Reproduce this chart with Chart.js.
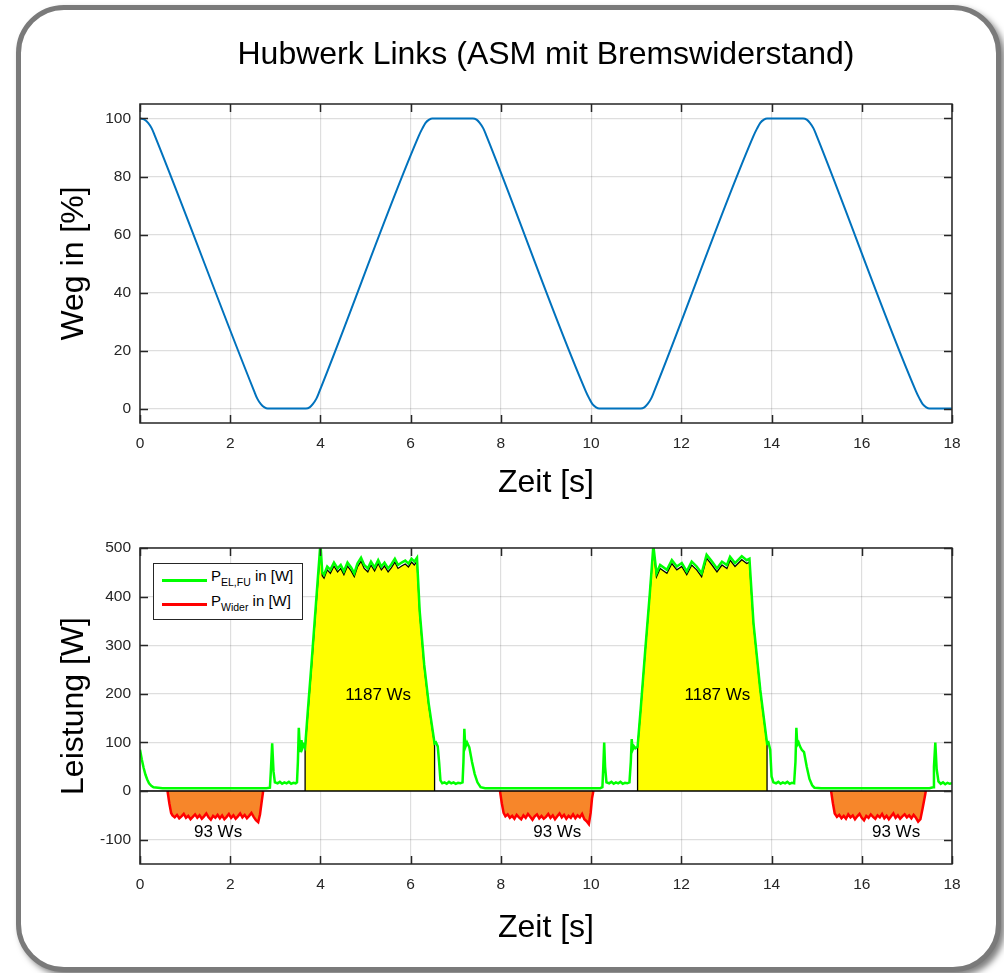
<!DOCTYPE html>
<html><head><meta charset="utf-8">
<script src="https://cdn.jsdelivr.net/npm/chart.js@4.4.1/dist/chart.umd.min.js"></script>
<style>
html,body{margin:0;padding:0;background:#fff;}
#page{position:relative;width:1004px;height:973px;overflow:hidden;background:#fff;font-family:"Liberation Sans",Arial,sans-serif;}
#frame{position:absolute;left:16px;top:5px;width:975px;height:957px;border:5px solid #7a7a7a;border-radius:48px;box-shadow:4px 4px 6px rgba(0,0,0,0.5);background:#fff;}
canvas{position:absolute;left:0;}
#c1{top:0;}
#c2{top:510px;}
#legend{position:absolute;left:153px;top:563px;width:150px;height:57px;box-sizing:border-box;border:1px solid #262626;background:#fff;color:#000;font-size:15px;}
#legend .ls{position:absolute;left:8px;width:45px;height:2.5px;}
#legend .lt{position:absolute;left:57px;line-height:18px;white-space:nowrap;}
#legend sub{font-size:10.5px;vertical-align:baseline;position:relative;top:5px;}
</style></head>
<body>
<div id="page">
<div id="frame"></div>
<canvas id="c1" width="1004" height="510"></canvas>
<canvas id="c2" width="1004" height="463"></canvas>
<div id="legend">
  <div class="ls" style="top:15px;background:#00ff00;"></div>
  <div class="lt" style="top:3px;">P<sub>EL,FU</sub> in [W]</div>
  <div class="ls" style="top:39px;background:#ff0000;"></div>
  <div class="lt" style="top:28px;">P<sub>Wider</sub> in [W]</div>
</div>
</div>
<script>
// ---------- data ----------
const xTicks = [0, 2, 4, 6, 8, 10, 12, 14, 16, 18];
const wegTicks = [0, 20, 40, 60, 80, 100];
const powerTicks = [-100, 0, 100, 200, 300, 400, 500];

const wegTime = [0, 0.1, 0.18, 0.26, 0.33, 2.53, 2.6, 2.68, 2.76, 2.83,
  3.68, 3.76, 3.83, 3.91, 3.98, 6.18, 6.26, 6.33, 6.41, 6.48,
  7.38, 7.46, 7.53, 7.61, 7.68, 9.88, 9.96, 10.03, 10.11, 10.18,
  11.1, 11.18, 11.25, 11.33, 11.4, 13.6, 13.68, 13.75, 13.83, 13.9,
  14.7, 14.78, 14.85, 14.93, 15.0, 17.2, 17.28, 17.35, 17.43, 17.5, 18];
const wegValue = [100, 99.6, 98.5, 96.6, 94, 6, 3.4, 1.5, 0.4, 0,
  0, 0.4, 1.5, 3.4, 6, 94, 96.6, 98.5, 99.6, 100,
  100, 99.6, 98.5, 96.6, 94, 6, 3.4, 1.5, 0.4, 0,
  0, 0.4, 1.5, 3.4, 6, 94, 96.6, 98.5, 99.6, 100,
  100, 99.6, 98.5, 96.6, 94, 6, 3.4, 1.5, 0.4, 0, 0];

const fuTime = [0, 0.04, 0.08, 0.12, 0.16, 0.2, 0.25, 0.3, 0.4, 0.5, 0.7, 1.0, 1.5, 2.0, 2.5, 2.8,
  2.88, 2.9, 2.93, 2.96, 2.99, 3.05, 3.1, 3.15, 3.2, 3.25, 3.3, 3.35, 3.4, 3.45, 3.48,
  3.5, 3.52, 3.54, 3.56, 3.58, 3.6, 3.63, 3.66,
  3.72, 3.8, 3.9, 4.0, 4.04, 4.08,
  4.15, 4.22, 4.3, 4.38, 4.45, 4.52, 4.6, 4.68, 4.75, 4.82, 4.9, 4.97, 5.05, 5.12, 5.2, 5.28,
  5.35, 5.42, 5.5, 5.57, 5.65, 5.72, 5.8, 5.88, 5.95, 6.02, 6.08, 6.14,
  6.2, 6.3, 6.4, 6.53, 6.56, 6.6, 6.63, 6.66, 6.7, 6.75, 6.8, 6.85, 6.9, 6.95, 7.0, 7.05, 7.1, 7.15,
  7.17, 7.19, 7.21, 7.25, 7.3, 7.36, 7.42, 7.48, 7.55, 7.65, 8.0, 8.5, 9.0, 9.5, 10.0, 10.2,
  10.25, 10.27, 10.29, 10.31, 10.34, 10.4, 10.45, 10.5, 10.55, 10.6, 10.65, 10.7, 10.75, 10.8, 10.85,
  10.88, 10.9, 10.92, 10.95, 10.98, 11.03,
  11.1, 11.2, 11.3, 11.38, 11.45,
  11.53, 11.68, 11.79, 11.9, 12.01, 12.12, 12.23, 12.34, 12.45, 12.56, 12.68, 12.79, 12.9, 13.01,
  13.08, 13.19, 13.34, 13.45, 13.51,
  13.6, 13.75, 13.9, 13.93, 13.97, 14.0, 14.04, 14.1, 14.15, 14.2, 14.25, 14.3, 14.35, 14.4, 14.45, 14.5,
  14.53, 14.55, 14.57, 14.6, 14.63, 14.67, 14.72, 14.78, 14.84, 14.9, 14.95, 15.1, 15.5, 16, 16.5, 17, 17.5,
  17.58, 17.6, 17.63, 17.66, 17.7, 17.75, 17.8, 17.85, 17.9, 17.95, 18];
const fuValue = [85, 65, 48, 34, 24, 16, 11, 8, 7, 6, 6, 6, 6, 6, 6, 6,
  7, 40, 98, 40, 18, 16, 19, 15, 18, 16, 19, 15, 17, 16, 18,
  60, 130, 95, 80, 105, 88, 95, 90,
  165, 260, 385, 510, 450, 445,
  462, 455, 470, 458, 465, 452, 470, 460, 448, 468, 480, 465, 458, 472, 460, 475,
  462, 470, 458, 466, 478, 465, 470, 474, 468, 478, 472, 480,
  370, 260, 180, 98, 100, 92, 60, 22, 16, 18, 15, 19, 16, 18, 15, 17, 16, 18,
  60, 128, 90, 100, 90, 60, 35, 18, 8, 6, 6, 6, 6, 6, 6, 6,
  8, 50, 100, 50, 18, 16, 19, 15, 18, 16, 19, 15, 17, 16, 18,
  60, 107, 85, 92, 88, 91,
  170, 290, 405, 505, 448,
  465, 455, 475, 462, 469, 452, 472, 462, 448, 486, 472, 458, 472, 465,
  482, 469, 483, 475, 478,
  345, 208, 98, 100, 85, 30, 18, 16, 19, 15, 18, 16, 19, 15, 17, 16,
  60, 130, 95, 100, 92, 85, 80, 50, 25, 12, 7, 6, 6, 6, 6, 6, 6,
  8, 50, 100, 45, 20, 15, 18, 14, 17, 15, 16];

const wiTime = [0.61, 0.65, 0.69, 0.72, 0.77, 0.82, 0.87, 0.92, 0.97, 1.02, 1.07, 1.12, 1.17, 1.22, 1.27,
  1.32, 1.37, 1.42, 1.47, 1.52, 1.57, 1.62, 1.67, 1.72, 1.77, 1.82, 1.87, 1.92, 1.97, 2.02, 2.07,
  2.12, 2.17, 2.22, 2.27, 2.32, 2.37, 2.42, 2.47, 2.52, 2.57, 2.62, 2.66, 2.7, 2.73,
  5,
  7.98, 8.02, 8.06, 8.1, 8.15, 8.2, 8.25, 8.3, 8.35, 8.4, 8.45, 8.5, 8.55, 8.6, 8.65, 8.7, 8.75, 8.8,
  8.85, 8.9, 8.95, 9.0, 9.05, 9.1, 9.15, 9.2, 9.25, 9.3, 9.35, 9.4, 9.45, 9.5, 9.55, 9.6, 9.65, 9.7,
  9.75, 9.8, 9.85, 9.9, 9.95, 9.99, 10.02, 10.05,
  12,
  15.32, 15.36, 15.4, 15.45, 15.5, 15.55, 15.6, 15.65, 15.7, 15.75, 15.8, 15.85, 15.9, 15.95, 16.0,
  16.05, 16.1, 16.15, 16.2, 16.25, 16.3, 16.35, 16.4, 16.45, 16.5, 16.55, 16.6, 16.65, 16.7, 16.75,
  16.8, 16.85, 16.9, 16.95, 17.0, 17.05, 17.1, 17.15, 17.2, 17.25, 17.3, 17.35, 17.4, 17.42];
const wiValue = [0, -25, -45, -50, -54, -49, -56, -52, -47, -55, -51, -58, -53, -48, -55,
  -50, -57, -52, -46, -54, -59, -51, -55, -49, -56, -50, -58, -53, -47, -55, -50,
  -57, -52, -46, -54, -49, -56, -51, -45, -53, -60, -64, -48, -20, 0,
  null,
  0, -25, -45, -52, -48, -55, -51, -57, -49, -54, -58, -50, -55, -47, -53, -59, -52, -48,
  -56, -51, -57, -53, -47, -55, -50, -58, -52, -46, -54, -49, -57, -51, -55, -48, -56, -50,
  -54, -47, -58, -62, -68, -45, -15, 0,
  null,
  0, -25, -46, -53, -49, -56, -51, -57, -48, -54, -50, -58, -52, -47, -55,
  -60, -51, -55, -48, -53, -57, -50, -54, -47, -56, -51, -58, -52, -46, -55,
  -50, -57, -52, -48, -54, -50, -56, -49, -55, -63, -58, -35, -10, 0];

const areaTime = [3.66, 3.66, 3.72, 3.8, 3.9, 4.0, 4.04, 4.08,
  4.15, 4.22, 4.3, 4.38, 4.45, 4.52, 4.6, 4.68, 4.75, 4.82, 4.9, 4.97, 5.05, 5.12, 5.2, 5.28,
  5.35, 5.42, 5.5, 5.57, 5.65, 5.72, 5.8, 5.88, 5.95, 6.02, 6.08, 6.14,
  6.2, 6.3, 6.4, 6.53, 6.53,
  9,
  11.03, 11.03, 11.1, 11.2, 11.3, 11.38, 11.45,
  11.53, 11.68, 11.79, 11.9, 12.01, 12.12, 12.23, 12.34, 12.45, 12.56, 12.68, 12.79, 12.9, 13.01,
  13.08, 13.19, 13.34, 13.45, 13.51, 13.6, 13.75, 13.9, 13.9];
const areaValue = [0, 88, 158, 252, 378, 498, 443, 438,
  455, 448, 463, 451, 458, 445, 463, 453, 441, 461, 473, 458, 451, 465, 453, 468,
  455, 463, 451, 459, 471, 458, 463, 467, 461, 471, 465, 473,
  366, 256, 176, 96, 0,
  null,
  0, 89, 168, 288, 403, 498, 441,
  458, 448, 468, 455, 462, 445, 465, 455, 441, 479, 465, 451, 465, 458,
  475, 462, 476, 468, 471, 343, 206, 96, 0];

const zeroTime = [0, 18];
const zeroValue = [0, 0];

const energyText = ['1187 Ws', '1187 Ws', '93 Ws', '93 Ws', '93 Ws'];
const energyTime = [5.28, 12.8, 1.73, 9.25, 16.76];
const energyValue = [198, 198, -84, -84, -84];

// ---------- helpers ----------
const FONT = '"Liberation Sans", Arial, sans-serif';
const toXY = (ts, vs) => ts.map((t, i) => ({x: t, y: vs[i]}));

const boxPlugin = {
  id: 'matlabBox',
  afterDatasetsDraw(chart) {
    const {ctx, chartArea: a, scales: {x, y}} = chart;
    ctx.save();
    ctx.strokeStyle = '#262626';
    ctx.lineWidth = 1.5;
    ctx.strokeRect(a.left, a.top, a.right - a.left, a.bottom - a.top);
    ctx.beginPath();
    x.ticks.forEach(t => {
      const px = Math.round(x.getPixelForValue(t.value)) + 0.5;
      ctx.moveTo(px, a.bottom); ctx.lineTo(px, a.bottom - 8);
      ctx.moveTo(px, a.top); ctx.lineTo(px, a.top + 8);
    });
    y.ticks.forEach(t => {
      const py = Math.round(y.getPixelForValue(t.value)) + 0.5;
      ctx.moveTo(a.left, py); ctx.lineTo(a.left + 8, py);
      ctx.moveTo(a.right, py); ctx.lineTo(a.right - 8, py);
    });
    ctx.stroke();
    ctx.restore();
  }
};

const energyPlugin = {
  id: 'energyLabels',
  afterDatasetsDraw(chart) {
    const {ctx, scales: {x, y}} = chart;
    ctx.save();
    ctx.fillStyle = '#000';
    ctx.font = '17px ' + FONT;
    ctx.textAlign = 'center';
    ctx.textBaseline = 'middle';
    energyText.forEach((txt, i) => {
      ctx.fillText(txt, x.getPixelForValue(energyTime[i]), y.getPixelForValue(energyValue[i]));
    });
    ctx.restore();
  }
};

function xScale(height) {
  return {
    type: 'linear', min: 0, max: 18,
    afterBuildTicks: s => { s.ticks = xTicks.map(v => ({value: v})); },
    afterFit: s => { s.height = height; },
    grid: {color: 'rgba(0,0,0,0.13)', lineWidth: 1.2, drawTicks: false},
    border: {display: false},
    ticks: {padding: 11, color: '#262626', font: {family: FONT, size: 15.5}, maxRotation: 0},
    title: {display: true, text: 'Zeit [s]', color: '#000', padding: 0,
      font: {family: FONT, size: 32, lineHeight: 1.2}}
  };
}
function yScale(min, max, ticks, label) {
  return {
    type: 'linear', min: min, max: max,
    afterBuildTicks: s => { s.ticks = ticks.map(v => ({value: v})); },
    afterFit: s => { s.width = 85; },
    grid: {color: 'rgba(0,0,0,0.13)', lineWidth: 1.2, drawTicks: false},
    border: {display: false},
    ticks: {padding: 9, color: '#262626', font: {family: FONT, size: 15.5}},
    title: {display: true, text: label, color: '#000', padding: 0,
      font: {family: FONT, size: 32, lineHeight: 1.2}}
  };
}

// ---------- top chart ----------
new Chart(document.getElementById('c1'), {
  type: 'line',
  data: {datasets: [{
    data: toXY(wegTime, wegValue), borderColor: '#0072BD', borderWidth: 2,
    pointRadius: 0, cubicInterpolationMode: 'monotone', fill: false
  }]},
  options: {
    responsive: false, animation: false, events: [],
    layout: {padding: {left: 55, right: 52, top: 0, bottom: 8}},
    plugins: {
      legend: {display: false}, tooltip: {enabled: false},
      title: {display: true, text: 'Hubwerk Links (ASM mit Bremswiderstand)', fullSize: false,
        color: '#000', font: {family: FONT, size: 32, weight: 'normal', lineHeight: 1.2},
        padding: {top: 36, bottom: 29.6}}
    },
    scales: {x: xScale(79), y: yScale(-5, 105, wegTicks, 'Weg in [%]')}
  },
  plugins: [boxPlugin]
});

// ---------- bottom chart ----------
new Chart(document.getElementById('c2'), {
  type: 'line',
  data: {datasets: [
    {label: 'P_EL,FU', data: toXY(fuTime, fuValue), borderColor: '#00ff00', borderWidth: 2.5,
      pointRadius: 0, tension: 0, fill: false},
    {label: 'zero', data: toXY(zeroTime, zeroValue), borderColor: '#000', borderWidth: 1.5,
      pointRadius: 0, fill: false},
    {label: 'P_Wider', data: toXY(wiTime, wiValue), borderColor: '#ff0000', borderWidth: 2.5,
      backgroundColor: '#f7862a', pointRadius: 0, tension: 0, fill: 'origin', spanGaps: false},
    {label: 'Energie', data: toXY(areaTime, areaValue), borderColor: '#000', borderWidth: 1.3,
      backgroundColor: '#ffff00', pointRadius: 0, tension: 0, fill: 'origin', spanGaps: false}
  ]},
  options: {
    responsive: false, animation: false, events: [],
    layout: {padding: {left: 55, right: 52, top: 38, bottom: 26}},
    plugins: {legend: {display: false}, tooltip: {enabled: false}},
    scales: {x: xScale(83), y: yScale(-150, 500, powerTicks, 'Leistung [W]')}
  },
  plugins: [boxPlugin, energyPlugin]
});
</script>
</body></html>
